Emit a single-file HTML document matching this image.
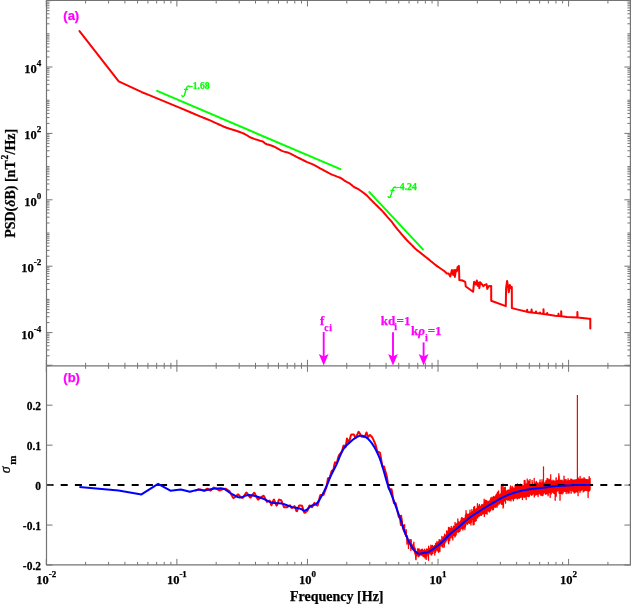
<!DOCTYPE html>
<html><head><meta charset="utf-8"><style>
html,body{margin:0;padding:0;background:#fff;width:631px;height:604px;overflow:hidden}
svg{display:block;will-change:transform}
</style></head><body>
<svg width="631" height="604" viewBox="0 0 631 604">
<defs><clipPath id="ca"><rect x="47" y="1" width="583" height="364"/></clipPath><clipPath id="cb"><rect x="47" y="366" width="583" height="199"/></clipPath></defs>
<g clip-path="url(#ca)" stroke-linejoin="round" stroke-linecap="round">
<polyline points="79.5,31.1 118.7,81.4 141.9,92.2 148.61,94.94 158.29,98.89 168.5,103.1 179.45,107.67 190.95,112.5 200,116.3 204.8,118.27 207.15,119.21 209.5,120.2 212.74,121.64 215.97,123.13 219,124.5 221.6,125.69 224,126.77 226.6,127.8 229.66,128.78 232.93,129.72 236.1,130.7 239.11,131.75 242.01,132.85 244.7,134 246.97,135.26 249.02,136.58 251.3,137.8 254.26,138.91 257.45,139.91 260,140.7 261.4,141.1 262.16,141.28 262.9,141.6 263.8,142.27 264.7,143.09 265.7,143.8 266.82,144.24 268.06,144.57 269.5,145 271.22,145.57 273.16,146.24 275.2,147.1 277.36,148.31 279.64,149.71 281.9,150.9 284.14,151.64 286.37,152.16 288.5,152.8 290.47,153.7 292.33,154.7 294.2,155.7 296.06,156.62 297.93,157.53 299.9,158.5 302.1,159.6 304.4,160.75 306.6,161.8 308.5,162.6 310.29,163.31 312.3,164.2 314.79,165.48 317.51,166.94 320,168.3 322.05,169.41 323.87,170.42 325.7,171.4 327.6,172.4 329.5,173.39 331.4,174.3 333.37,175.14 335.34,175.91 337.1,176.6 338.47,177.09 339.63,177.5 340.9,178.1 342.44,179.1 344.1,180.31 345.7,181.4 347.18,182.2 348.6,182.9 350,183.7 351.38,184.77 352.73,185.95 354.1,187 355.5,187.76 356.9,188.39 358.3,189.1 359.67,189.99 361.03,190.97 362.4,192 363.8,193.04 365.2,194.12 366.6,195.3 367.97,196.64 369.34,198.07 370.7,199.5 372.06,200.87 373.43,202.24 374.8,203.6 376.2,204.96 377.6,206.33 379,207.7 380.37,209.07 381.73,210.44 383.1,211.9 384.5,213.49 385.9,215.16 387.3,216.8 388.69,218.35 390.07,219.86 391.4,221.4 392.62,222.98 393.78,224.58 395,226.2 396.33,227.85 397.71,229.53 399.1,231.2 400.5,232.89 401.9,234.57 403.3,236.2 404.67,237.75 406.03,239.24 407.4,240.7 408.8,242.13 410.2,243.52 411.6,244.9 412.97,246.3 414.34,247.7 415.7,249 417.06,250.16 418.43,251.23 419.8,252.3 421.2,253.4 422.6,254.5 424,255.6 425.37,256.7 426.73,257.79 428.1,258.9 429.5,260.03 430.9,261.17 432.3,262.3 433.67,263.42 435.04,264.53 436.4,265.6 437.76,266.6 439.13,267.55 440.5,268.5 441.98,269.5 443.47,270.5 444.7,271.4 445.57,272.21 446.19,272.91 446.6,273.4 448.6,273.6 450.3,276.5 451.9,269.9 453.2,274.9 454.2,269.9 454.9,276.9 455.9,269.9 456.9,271.2 457.5,267.3 458.9,265.9 459.2,273.9 459.3,279.9 462.5,280.5 465.2,281.8 465.8,286.5 473.1,291.8 474.1,281.8 475.8,284.5 476.8,280.5 477.7,285.8 479.1,282.5 479.3,288.2 480.3,282.3 482,284.3 483.3,286.3 484.6,284.9 486.6,284.3 487.3,288.9 488.6,286.3 491.2,285.9 491.2,300.8 505.8,306.1 506.1,288.2 507.1,281 508.1,286.9 508.8,292.2 509.8,284.9 510.8,288 511.8,286.9 511.9,308.1 518,309.6 527,311.8 527.2,309.8 527.5,311.9 531.4,312.4 531.6,309.4 531.9,312.6 535.8,313 536,311.4 536.2,313.1 539.8,313.5 540,312.4 540.2,313.6 543.4,314 543.5,309.2 543.7,314.1 547,314.4 547.2,313 547.4,314.5 555,315.8 558.4,316.1 558.5,313.8 558.7,316.1 561.1,316.3 561.2,311.2 561.4,316.3 567,317 577.3,317.6 577.4,312.1 577.6,317.6 589.3,318.7 590.3,318.8 590.3,328.5" fill="none" stroke="#ff0000" stroke-width="2"/>
<polyline points="157.1,90.9 340.4,169.2" fill="none" stroke="#00ff00" stroke-width="2"/>
<polyline points="369.4,192.1 422.9,249.4" fill="none" stroke="#00ff00" stroke-width="2"/>
</g>
<g clip-path="url(#cb)" stroke-linejoin="round">
<polygon fill="#ff0000" points="405,532.52 406,534.91 407,537.18 408,539.34 409,541.32 410,543.03 411,544.8 412,546.14 413,547.81 414,548.76 415,550.14 416,550.81 417,551.27 418,552.19 419,552.23 420,552.24 421,551.46 422,551.49 423,550.68 424,550.88 425,549.91 426,550.19 427,549.26 428,548.84 429,548.45 430,547.81 431,547.41 432,546.68 433,546.43 434,545.32 435,544.79 436,543.49 437,542.37 438,542.05 439,541.61 440,540.61 441,540 442,539.23 443,537.63 444,536.33 445,535.18 446,534.14 447,533.32 448,531.91 449,531.53 450,529.83 451,529.96 452,529.08 453,527.25 454,526.36 455,525.88 456,524.92 457,524.17 458,523.04 459,523.18 460,521.79 461,520.65 462,520.02 463,519.13 464,518.71 465,516.7 466,516.27 467,515.54 468,515.33 469,512.8 470,512.88 471,512.9 472,510.75 473,511.15 474,509.49 475,509.61 476,508.21 477,507.46 478,507.31 479,506.45 480,506.86 481,505.11 482,504.31 483,504.29 484,502.78 485,503.71 486,502.48 487,500.89 488,501.8 489,500.78 490,500.2 491,498.67 492,498.25 493,497.22 494,497.8 495,497.62 496,496.06 497,496 498,495.84 499,495.19 500,493.77 501,493.4 502,492.74 503,491.85 504,492.34 505,490.59 506,491.53 507,491.05 508,490.25 509,489.85 510,489.48 511,488.11 512,487.73 513,487.28 514,487.53 515,488.02 516,486.52 517,486.59 518,486.65 519,487.07 520,485.82 521,486.92 522,485.85 523,485.98 524,484.66 525,485.46 526,485.34 527,485.06 528,484.01 529,483.65 530,485.04 531,484.79 532,483.92 533,483.67 534,484.23 535,483.09 536,484.4 537,483.86 538,484.02 539,483.43 540,483.44 541,483.53 542,481.83 543,482.32 544,483.03 545,481.45 546,482.07 547,482.79 548,481.12 549,482.53 550,481.37 551,482.2 552,482.2 553,481.8 554,481.19 555,480.58 556,481.03 557,480.2 558,481.19 559,480.54 560,481.46 561,479.9 562,481.39 563,479.9 564,481.17 565,480.76 566,481.02 567,481.04 568,480.08 569,480.33 570,480.94 571,479.1 572,479.08 573,479.84 574,479.73 575,480.36 576,479.01 577,479.98 578,480.6 579,479.1 580,478.89 581,480.44 582,479.25 583,479.98 584,478.93 585,478.96 586,480 587,479.09 588,479.93 589,479.82 590,479.05 590,490.51 589,491.16 588,490.79 587,491.18 586,490.38 585,490 584,490.26 583,489.6 582,490.07 581,490.91 580,489.97 579,491 578,490.82 577,490.48 576,490.03 575,489.58 574,489.65 573,491.09 572,491.08 571,491.32 570,490.24 569,491.27 568,490.8 567,490.5 566,490.58 565,490.07 564,491.22 563,490.75 562,491.38 561,491.43 560,490.65 559,491.71 558,490.44 557,490.24 556,490.35 555,492.19 554,491.57 553,491.6 552,491.01 551,492.58 550,491.97 549,492.36 548,491.72 547,492.24 546,492.19 545,491.7 544,491.9 543,492.41 542,493.25 541,493.68 540,492.35 539,494.04 538,493.66 537,494.15 536,494.52 535,493.34 534,494.73 533,493.73 532,494.65 531,493.64 530,493.35 529,494.71 528,494.95 527,495.29 526,494.43 525,494.54 524,495.32 523,494.83 522,494.76 521,496.23 520,496.12 519,495.96 518,495.96 517,496.72 516,496.81 515,496.65 514,497.43 513,498.03 512,497.82 511,498.49 510,499.54 509,499.33 508,500.25 507,499.86 506,499.9 505,500.4 504,501.41 503,501.37 502,502.1 501,502.57 500,504.36 499,503.77 498,504.81 497,504.37 496,506.1 495,506.24 494,507.19 493,508.43 492,507.84 491,508.14 490,509.22 489,510.07 488,510.01 487,511.56 486,511.27 485,512.53 484,513.2 483,514.35 482,514.56 481,514.08 480,514.71 479,516.09 478,517.7 477,516.7 476,518.72 475,518.17 474,519.23 473,520.31 472,520.12 471,522.02 470,521.69 469,522.33 468,524.17 467,523.8 466,525.23 465,525.7 464,525.87 463,528.36 462,528.27 461,529 460,529.95 459,530.76 458,531.82 457,532.46 456,533.49 455,534.66 454,534.75 453,535.71 452,536.58 451,536.61 450,538.62 449,539.31 448,539.27 447,540.9 446,541.33 445,542.47 444,544.05 443,545.18 442,546.13 441,546.25 440,546.92 439,547.3 438,549.36 437,549.46 436,550.25 435,550.81 434,551.25 433,552.68 432,553.23 431,553.05 430,554.04 429,553.95 428,555.24 427,554.65 426,554.71 425,554.66 424,555.02 423,555.21 422,555.61 421,555.27 420,555.93 419,555.13 418,555.28 417,554.2 416,553.47 415,552.51 414,551.06 413,549.65 412,548.12 411,546.35 410,544.36 409,542.2 408,539.99 407,537.67 406,535.17 405,532.52"/>
<polyline points="195,490.74 195.5,490.58 196,490.41 196.5,490.23 197,490.04 197.5,489.83 198,489.62 198.5,489.58 199,489.54 199.5,489.48 200,489.43 200.5,489.58 201,489.74 201.5,489.91 202,490.09 202.5,490.28 203,490.48 203.5,490.69 204,490.91 204.5,490.71 205,490.33 205.5,489.92 206,489.51 206.5,489.09 207,488.66 207.5,488.72 208,489.03 208.5,489.35 209,489.68 209.5,490.02 210,490.37 210.5,490.62 211,490.17 211.5,489.71 212,489.23 212.5,488.75 213,488.26 213.5,487.8 214,487.61 214.5,487.84 215,488.06 215.5,488.3 216,488.53 216.5,488.77 217,489.02 217.5,489.28 218,489.55 218.5,489.84 219,490.14 219.5,490.45 220,490.37 220.5,490.13 221,489.91 221.5,489.72 222,489.53 222.5,489.34 223,489.14 223.5,488.96 224,488.9 224.5,488.84 225,488.76 225.5,488.7 226,488.97 226.5,489.27 227,489.57 227.5,489.89 228,490.23 228.5,490.57 229,490.92 229.5,491.27 230,492.18 230.5,493.1 231,494.02 231.5,494.9 232,495.78 232.5,496.66 233,497.54 233.5,498.1 234,497.73 234.5,497.36 235,496.99 235.5,496.6 236,496.17 236.5,495.74 237,495.31 237.5,494.87 238,494.37 238.5,494.65 239,495.19 239.5,495.73 240,496.24 240.5,496.59 241,496.95 241.5,497.3 242,497.66 242.5,497.88 243,497.61 243.5,496.83 244,496.04 244.5,495.26 245,494.48 245.5,493.69 246,492.91 246.5,492.51 247,493.16 247.5,493.81 248,494.46 248.5,495.11 249,495.84 249.5,496.62 250,497.41 250.5,497.65 251,496.93 251.5,496.2 252,495.5 252.5,494.83 253,494.15 253.5,493.47 254,492.79 254.5,493.01 255,493.94 255.5,494.9 256,495.87 256.5,496.83 257,497.8 257.5,498.77 258,499.6 258.5,499.23 259,498.86 259.5,498.49 260,498.12 260.5,497.75 261,497.38 261.5,497.01 262,496.69 262.5,496.36 263,496.03 263.5,495.7 264,496.39 264.5,497.32 265,498.25 265.5,499.19 266,500.13 266.5,501.07 267,501.86 267.5,501.64 268,501.42 268.5,501.2 269,500.98 269.5,500.71 270,501.01 270.5,502.73 271,504.45 271.5,505.2 272,503.96 272.5,502.71 273,501.45 273.5,500.19 274,499.55 274.5,500.78 275,502 275.5,503.21 276,504.43 276.5,505.65 277,505.13 277.5,503.73 278,502.33 278.5,500.93 279,499.59 279.5,499.75 280,499.94 280.5,500.12 281,500.3 281.5,500.83 282,502.04 282.5,503.28 283,504.53 283.5,505.77 284,507.02 284.5,507.32 285,507.31 285.5,507.29 286,507.27 286.5,507.25 287,507.23 287.5,507 288,506.64 288.5,506.28 289,505.92 289.5,505.55 290,505.39 290.5,506.25 291,507.11 291.5,507.97 292,507.99 292.5,507.63 293,507.27 293.5,506.91 294,506.55 294.5,506.17 295,507.19 295.5,508.5 296,509.8 296.5,511.11 297,511.17 297.5,509.8 298,508.43 298.5,507.08 299,505.73 299.5,505.5 300,505.44 300.5,505.5 301,505.56 301.5,505.62 302,505.79 302.5,507.16 303,508.8 303.5,510.42 304,511.92 304.5,512.81 305,512.73 305.5,512.36 306,512 306.5,511.59 307,511.05 307.5,510.5 308,509.41 308.5,508.07 309,506.72 309.5,505.41 310,505.67 310.5,505.97 311,506.33 311.5,506.79 312,507.26 312.5,506.47 313,505.44 313.5,504.41 314,503.37 314.5,502.89 315,503.53 315.5,504.07 316,504.54 316.5,505.01 317,505.29 317.5,505.53 318,504.27 318.5,502.27 319,500.26 319.5,498.17 320,496.06 320.5,494.94 321,494.99 321.5,495.03 322,495.04 322.5,495.05 323,495.02 323.5,494.89 324,493.62 324.5,492.3 325,490.98 325.5,489.64 326,488.28 326.5,486.83 327,484.01 327.5,481.19 328,478.29 328.5,477.96 329,478.07 329.5,478.18 330,476.75 330.5,474.94 331,473.23 331.5,471.54 332,470.69 332.5,470.38 333,470.06 333.5,469.23 334,466.58 334.5,463.94 335,462.3 335.5,462.8 336,463.3 336.5,463.76 337,462.06 337.5,460.2 338,458.34 338.5,456.41 339,455.29 339.5,454.57 340,453.89 340.5,453.23 341,452.58 341.5,451.98 342,451.52 342.5,449.58 343,447.47 343.5,445.6 344,445.47 344.5,445.91 345,446.47 345.5,447.1 346,444.45 346.5,441.43 347,438.47 347.5,439.86 348,441.25 348.5,442.67 349,442.13 349.5,440.37 350,438.61 350.5,436.85 351,435.1 351.5,434.54 352,434.52 352.5,434.51 353,434.49 353.5,434.51 354,434.66 354.5,435.73 355,436.82 355.5,437.94 356,437.56 356.5,436.38 357,435.23 357.5,434.07 358,432.96 358.5,431.86 359,432.12 359.5,432.95 360,433.78 360.5,434.68 361,435.61 361.5,436.57 362,436.85 362.5,436.82 363,436.87 363.5,436.93 364,437.02 364.5,437.16 365,436.3 365.5,434.99 366,433.69 366.5,432.42 367,433.89 367.5,435.5 368,437.1 368.5,436.5 369,435.94 369.5,435.42 370,435.09 370.5,435.54 371,436 371.5,436.51 372,437.04 372.5,437.85 373,438.9 373.5,439.94 374,441.04 374.5,442.17 375,443.31 375.5,444.54 376,446.47 376.5,448.44 377,450.44 377.5,451.88 378,451.97 378.5,452.05 379,452.25 379.5,452.47 380,452.77 380.5,455.61 381,458.47 381.5,461.52 382,464.6 382.5,466.78 383,466.6 383.5,466.46 384,466.57 384.5,468.31 385,470.06 385.5,471.81 386,473.56 386.5,475.23 387,477.27 387.5,480.88 388,484.38 388.5,487.79 389,489.02 389.5,489.1 390,489.18 390.5,489.22 391,489.24 391.5,489.27 392,491.46 392.5,494.62 393,497.81 393.5,501.03 394,503.31 394.5,503.18 395,503.05 395.5,502.95 396,504.7 396.5,506.92 397,509.15 397.5,511.37 398,513.61 398.5,515.86 399,517.34 399.5,517.58 400,517.86 400.5,518.14 401,518.45 401.5,518.78 400.02,518.23 400.21,516.24 400.41,518.79 400.61,522.89 400.81,523.98 401,524.93 401.2,515.77 401.39,518.61 401.59,518.81 401.78,522.83 401.97,520.83" fill="none" stroke="#ff0000" stroke-width="2"/>
<polyline points="400,517.86 400.5,518.14 401,518.45 401.5,518.78 400.02,518.23 400.21,516.24 400.41,518.79 400.61,522.89 400.81,523.98 401,524.93 401.2,515.77 401.39,518.61 401.59,518.81 401.78,522.83 401.97,520.83 402.16,524.76 402.35,526.2 402.55,528.12 402.74,524.33 402.92,529.53 403.11,529.93 403.3,529.89 403.49,528.67 403.68,525.42 403.86,531.91 404.05,528.25 404.23,526.06 404.42,530.58 404.6,524.73 404.78,532.86 404.97,534.48 405.15,532.12 405.33,534.2 405.51,532.54 405.69,536.18 405.87,535.66 406.05,536.45 406.23,529.68 406.41,535.2 406.58,535.15 406.76,538.24 406.94,544.22 407.11,543.09 407.29,537.76 407.46,535.92 407.64,538.65 407.81,539.2 407.98,539.11 408.16,542.58 408.33,540.68 408.5,548.39 408.67,544.38 408.84,543.25 409.01,543.2 409.18,541.96 409.35,543.97 409.52,543.73 409.69,541.1 409.86,539.41 410.02,541.84 410.19,542.93 410.35,541.57 410.52,541.22 410.69,541.07 410.85,550.48 411.01,547.86 411.18,539.58 411.34,543.93 411.5,544.26 411.67,546.25 411.83,548.7 411.99,547.72 412.15,547.51 412.31,545.23 412.47,547.55 412.63,548.84 412.79,547.94 412.95,544.9 413.11,550.02 413.26,548.42 413.42,543.68 413.58,549.57 413.73,546.46 413.89,542.17 414.05,548.88 414.2,546.19 414.36,551.8 414.51,551.05 414.66,550.65 414.82,552.63 414.97,554.06 415.12,548.07 415.28,550.52 415.43,554.65 415.58,551.06 415.73,559.26 415.88,552.24 416.03,559.7 416.18,555.13 416.33,552.4 416.48,554.17 416.63,555.91 416.78,555.21 416.92,555.36 417.07,552.23 417.22,555.06 417.36,553.17 417.51,548.93 417.66,551.29 417.8,555.03 417.95,552.75 418.09,549.34 418.24,556.78 418.38,551.05 418.53,556 418.67,556.47 418.81,555.59 418.95,548.57 419.1,551.92 419.24,549.65 419.38,555.67 419.52,555.89 419.66,549.97 419.8,552.33 419.94,553.55 420.08,553.78 420.22,550.08 420.36,553.64 420.5,553.49 420.64,551.41 420.78,553.36 420.91,551.61 421.05,550.65 421.19,553.62 421.33,553.9 421.46,549.34 421.6,554.74 421.73,555.14 421.87,552.86 422.01,553.05 422.14,551.06 422.27,549.15 422.41,549.83 422.54,552.75 422.68,554.62 422.81,551.8 422.94,556.27 423.08,553.32 423.21,550.69 423.34,553.63 423.47,553.84 423.6,556.68 423.73,554.37 423.86,552.37 424,556.34 424.13,549.78 424.26,551.73 424.38,552.84 424.51,550.36 424.64,553.53 424.77,549.06 424.9,557.98 425.03,553.54 425.16,551.45 425.28,554.73 425.41,551.27 425.54,556.69 425.67,552.65 425.79,552.52 425.92,553.57 426.04,551.07 426.17,559.45 426.29,550.65 426.42,552.43 426.54,556.65 426.67,548.88 426.79,556.03 426.92,551.08 427.04,552.05 427.16,549.11 427.29,552.12 427.41,553.22 427.53,549.54 427.66,552.69 427.78,554.48 427.9,551.79 428.02,549.27 428.14,550.97 428.26,553.68 428.38,558.23 428.5,560.27 428.62,546.16 428.74,552.19 428.86,552.9 428.98,551.77 429.1,553.88 429.22,551.48 429.34,548.31 429.46,549.41 429.58,553.22 429.7,552.76 429.81,550.84 429.93,552.46 430.05,549.41 430.17,548.29 430.28,552.81 430.4,551.25 430.51,550.28 430.63,553.39 430.75,547.25 430.86,545.14 430.98,554.83 431.09,552.64 431.21,549.91 431.32,545.68 431.44,549.51 431.55,546.97 431.67,545.87 431.78,555.07 431.89,551.15 432.01,548.19 432.12,547.65 432.23,546.53 432.34,545.98 432.46,545.49 432.57,548.78 432.68,548.96 432.79,548.98 432.9,553.4 433.02,547.96 433.13,549.22 433.24,551.21 433.35,548.62 433.46,549.37 433.57,546.63 433.68,549.75 433.79,548.65 433.9,549.25 434.01,547.54 434.12,546.45 434.23,546.15 434.33,548.08 434.44,549.01 434.55,545.98 434.66,545.81 434.77,555.07 434.87,548.28 434.98,550.81 435.09,549.45 435.2,549.95 435.3,548.06 435.41,548.13 435.52,552.38 435.62,543.4 435.73,549.61 435.84,545.9 435.94,546.95 436.05,546.11 436.15,544.88 436.26,549.88 436.36,546.12 436.47,549.38 436.57,548.54 436.68,545.94 436.78,547.76 436.88,543.31 436.99,541.36 437.09,551.05 437.19,546.62 437.3,545.47 437.4,545.95 437.5,544.89 437.61,547.78 437.71,544.47 437.81,544.23 437.91,547.54 438.01,545.01 438.12,550.19 438.22,550.4 438.32,545.27 438.42,545.7 438.52,544.74 438.62,552.28 438.72,542.76 438.82,541.47 438.92,546.19 439.02,546.21 439.12,539.7 439.22,542.25 439.32,542.61 439.42,544.5 439.52,542.94 439.62,544.1 439.72,545.14 439.82,539.95 439.92,551.56 440.01,543.64 440.11,544.98 440.21,542.76 440.31,540.26 440.41,540.06 440.5,540.17 440.6,542.46 440.7,541.83 440.8,540.36 440.89,541.8 440.99,542.97 441.09,545.18 441.18,540.33 441.28,541.38 441.37,540.35 441.47,542.41 441.57,543.88 441.66,542.27 441.76,545.98 441.85,536.38 441.95,543.58 442.04,543.4 442.14,544.66 442.23,540.58 442.33,541.44 442.42,547.07 442.51,538.03 442.61,539.04 442.7,542.74 442.8,542.96 442.89,539.29 442.98,539.43 443.08,540.19 443.17,539.17 443.26,541.98 443.35,537.02 443.45,537.58 443.54,543.02 443.63,543 443.72,544.55 443.82,537.61 443.91,547.47 444,538.15 444.09,542.61 444.18,538.64 444.27,541.47 444.36,546.53 444.46,539.96 444.55,534.24 444.64,543.12 444.73,543.37 444.82,539.71 444.91,542.94 445,541.47 445.09,540.61 445.18,540.99 445.27,541.69 445.36,541.07 445.45,539.22 445.54,540.14 445.62,537.47 445.71,538.52 445.8,541.91 445.89,535.76 445.98,538.63 446.07,535.88 446.16,538.9 446.24,536.11 446.33,534.71 446.42,537.33 446.51,536.54 446.6,530.9 446.68,537.45 446.77,536.44 446.86,534.01 446.94,534.82 447.03,533.41 447.12,538.95 447.21,531.77 447.29,537.88 447.38,534.39 447.46,536.75 447.55,534.6 447.64,536.93 447.72,538.63 447.81,538.65 447.89,535.25 447.98,536 448.06,535.41 448.15,530.47 448.23,532.74 448.32,535.64 448.4,542.16 448.49,527.36 448.57,538.55 448.66,543.73 448.74,536.94 448.83,534.28 448.91,537.82 448.99,536.23 449.08,536.99 449.16,533.38 449.25,527.75 449.33,534.64 449.41,531.9 449.5,534.48 449.58,538.41 449.66,540.69 449.74,537.04 449.83,539.08 449.91,532.23 449.99,531.85 450.07,528.31 450.16,530.8 450.24,531.7 450.32,531.5 450.4,537.85 450.48,533.41 450.57,531.75 450.65,534.21 450.73,534.47 450.81,531.19 450.89,529.31 450.97,529.41 451.05,534.92 451.13,533.47 451.22,526.34 451.3,532.42 451.38,532.28 451.46,532.27 451.54,535.08 451.62,534.52 451.7,530.8 451.78,531.41 451.86,537.39 451.94,537.97 452.02,536.05 452.1,534.82 452.18,528.97 452.25,533.58 452.33,529.37 452.41,530.9 452.49,536.7 452.57,529.92 452.65,535.58 452.73,532.83 452.81,539.92 452.88,533.62 452.96,533.22 453.04,530.88 453.12,526.93 453.2,531.2 453.28,530.36 453.35,533.77 453.43,532.86 453.51,526.24 453.59,530.98 453.66,527.48 453.74,531.19 453.82,532.38 453.89,528.14 453.97,535.32 454.05,530.13 454.12,528.24 454.2,531.53 454.28,526.8 454.35,532.65 454.43,529.66 454.51,530.22 454.58,532.63 454.66,530.18 454.73,527.37 454.81,530.6 454.89,536.98 454.96,525.53 455.04,522.35 455.11,527.87 455.19,523.9 455.26,527.32 455.34,528.56 455.41,535.83 455.49,534.85 455.56,535.27 455.64,534.03 455.71,530.34 455.79,529.54 455.86,527.62 455.93,524.35 456.01,525.36 456.08,533.57 456.16,534.93 456.23,531.59 456.3,530.64 456.38,530.24 456.45,532.19 456.53,524.02 456.6,526.94 456.67,526.73 456.75,528.7 456.82,526.38 456.89,530.91 456.96,528.74 457.04,526.47 457.11,530.37 457.18,530.87 457.25,524.63 457.33,523.07 457.4,530.2 457.47,525.84 457.54,527.43 457.62,529.22 457.69,526.07 457.76,528.85 457.83,518.94 457.9,521.97 457.98,527.91 458.05,524.09 458.12,532.42 458.19,526.96 458.26,529.53 458.33,530.8 458.4,530.13 458.47,525.35 458.55,521.81 458.62,524.45 458.69,528.85 458.76,527.48 458.83,526.41 458.9,529.88 458.97,524.56 459.04,527.06 459.11,530.16 459.18,526.66 459.25,521.9 459.32,529.9 459.39,531.48 459.46,527.99 459.53,529.27 459.6,528.71 459.67,528.68 459.74,527.06 459.81,528.56 459.88,527.02 459.95,527.45 460.01,523.97 460.08,525.53 460.15,530.84 460.22,524.87 460.29,528.14 460.36,527.43 460.43,525.13 460.5,522.03 460.56,527.08 460.63,526.67 460.7,520.69 460.77,528.56 460.84,522.73 460.91,522.43 460.97,520.66 461.04,527.92 461.11,520.13 461.18,522.45 461.24,523.63 461.31,518.21 461.38,527.56 461.45,520.73 461.51,522.8 461.58,528.64 461.65,525.44 461.72,519.39 461.78,521.17 461.85,525.88 461.92,520.83 461.98,517.52 462.05,524.63 462.12,520.87 462.18,527.85 462.25,524.84 462.32,527.45 462.38,522.36 462.45,518.78 462.51,522.35 462.58,525.46 462.65,520.11 462.71,524.69 462.78,528.15 462.84,530.03 462.91,529.76 462.98,522.46 463.04,526.4 463.11,518.76 463.17,525.46 463.24,523.87 463.3,528.18 463.37,524.03 463.43,528.52 463.5,526.62 463.56,526.78 463.63,518.62 463.69,523.42 463.76,519.79 463.82,526.17 463.89,519.82 463.95,522.93 464.01,523.86 464.08,519.68 464.14,520.48 464.21,523.9 464.27,527.27 464.34,522.15 464.4,520.83 464.46,525.44 464.53,520.25 464.59,519.27 464.65,527.45 464.72,523.85 464.78,525.54 464.85,529.14 464.91,529.49 464.97,522.09 465.04,522.9 465.1,522.47 465.16,520.29 465.22,522.82 465.29,524.59 465.35,527.1 465.41,517.78 465.48,515.12 465.54,522.63 465.6,525.66 465.66,514.72 465.73,523.38 465.79,520.98 465.85,522.51 465.91,518.93 465.98,521.01 466.04,510.6 466.1,518.95 466.16,516.41 466.22,521.26 466.29,518 466.35,522.7 466.41,515.48 466.47,516.73 466.53,517.09 466.59,513.29 466.66,516.35 466.72,519.77 466.78,519.07 466.84,515.48 466.9,517.42 466.96,522.55 467.02,520.61 467.08,523.07 467.15,520.92 467.21,517.23 467.27,516.99 467.33,519.46 467.39,516.23 467.45,514.69 467.51,518.06 467.57,523.42 467.63,524.3 467.69,520.52 467.75,523.34 467.81,519.97 467.87,522.99 467.93,516.93 467.99,522.74 468.05,516.54 468.11,517.44 468.17,514.72 468.23,517 468.29,515.63 468.35,519.06 468.41,519.45 468.47,516.86 468.53,515.96 468.59,516.18 468.65,517.5 468.71,516.96 468.77,521.48 468.83,522.26 468.88,519.67 468.94,519.78 469,514.21 469.06,521.31 469.12,518.35 469.18,521.68 469.24,517.53 469.3,516.55 469.36,515.06 469.41,522.77 469.47,517.95 469.53,523.33 469.59,523.23 469.65,517.21 469.71,515.26 469.76,522.92 469.82,519.28 469.88,517.33 469.94,516.11 470,510.11 470.05,519.23 470.11,517.17 470.17,516.81 470.23,517.8 470.28,516 470.34,520.42 470.4,522.71 470.46,514.22 470.51,520.19 470.57,520.57 470.63,521.55 470.69,514.6 470.74,514.41 470.8,522.2 470.86,514.86 470.92,524.91 470.97,519.98 471.03,514.48 471.09,520.49 471.14,514.33 471.2,514.88 471.26,512.97 471.31,519.92 471.37,517.92 471.43,513.89 471.48,512.51 471.54,518.32 471.6,522.21 471.65,517.83 471.71,513.83 471.76,515 471.82,513.22 471.88,509.45 471.93,510.53 471.99,514.06 472.04,518.12 472.1,514.93 472.16,513.71 472.21,516.32 472.27,516.74 472.32,512.27 472.38,516.06 472.43,513.34 472.49,518.63 472.54,513 472.6,516.38 472.66,517.53 472.71,512.77 472.77,518.67 472.82,516.02 472.88,516.2 472.93,519 472.99,518.19 473.04,512.83 473.1,512.5 473.15,524.96 473.21,517.27 473.26,512.83 473.31,514.07 473.37,520.34 473.42,513.2 473.48,514.98 473.53,515.88 473.59,515.85 473.64,515.43 473.7,507.2 473.75,516.88 473.8,512.1 473.86,512.85 473.91,514.53 473.97,518.89 474.02,513.07 474.07,511.75 474.13,524.47 474.18,512.38 474.24,514.4 474.29,517.52 474.34,514.97 474.4,513.54 474.45,508.63 474.5,506.76 474.56,514.55 474.61,506.53 474.66,509.62 474.72,511.21 474.77,514.1 474.82,515.83 474.88,514.24 474.93,516.98 474.98,513.6 475.04,511.9 475.09,515.38 475.14,521.45 475.2,516.19 475.25,516.62 475.3,516.37 475.35,509.95 475.41,515.43 475.46,510.4 475.51,513.91 475.56,514.78 475.62,517.72 475.67,518.84 475.72,515.04 475.77,515.71 475.83,515.4 475.88,516.8 475.93,520.3 475.98,519.4 476.03,512.27 476.09,511.38 476.14,513.21 476.19,515.48 476.24,520.72 476.29,513.13 476.35,514.08 476.4,512.47 476.45,513.71 476.5,513.01 476.55,513.19 476.6,513.18 476.66,514.37 476.71,516.19 476.76,511.31 476.81,512.12 476.86,512.34 476.91,510.72 476.96,509.81 477.02,510.34 477.07,508.81 477.12,509.35 477.17,513.02 477.22,513.79 477.27,512.41 477.32,511.48 477.37,516.13 477.42,503.7 477.47,515.64 477.52,510.44 477.58,514.84 477.63,518.09 477.68,507.47 477.73,515.51 477.78,508.55 477.83,513.57 477.88,514.89 477.93,506.17 477.98,508.12 478.03,515.85 478.08,515.78 478.13,510.97 478.18,511.37 478.23,511.84 478.28,512.6 478.33,513.33 478.38,513.36 478.43,512.15 478.48,516.26 478.53,512.3 478.58,511.33 478.63,510.28 478.68,513.33 478.73,512.15 478.78,511.34 478.83,513.27 478.88,506.1 478.93,507.98 478.98,511.48 479.03,509.52 479.08,508.82 479.13,513.64 479.17,505.17 479.22,516.15 479.27,511.51 479.32,514.27 479.37,513.71 479.42,504.37 479.47,514.96 479.52,512.49 479.57,511.16 479.62,514.56 479.66,509.85 479.71,510.8 479.76,512.81 479.81,511.22 479.86,515.26 479.91,509.12 479.96,511.54 480.01,510.28 480.05,509.68 480.1,508.42 480.15,508.95 480.2,509 480.25,513.29 480.3,509.84 480.34,513.86 480.39,513.65 480.44,510.15 480.49,514.22 480.54,511.76 480.59,511.71 480.63,509.86 480.68,512.81 480.73,512.81 480.78,506.53 480.83,511.9 480.87,515.25 480.92,507.45 481.02,507.79 481.06,510.88 481.11,514.03 481.16,513.18 481.21,510.31 481.25,506.45 481.3,508.68 481.35,508.39 481.4,515.4 481.44,512.38 481.49,507.33 481.54,504.86 481.59,511.82 481.63,515.04 481.68,508.41 481.73,506.77 481.77,513.67 481.82,511.41 481.87,506.06 481.92,509.85 482.01,505.82 482.06,511.02 482.1,508.1 482.15,509.91 482.2,505.08 482.24,506.33 482.29,507.88 482.34,506.84 482.38,507.31 482.43,508.83 482.48,506.56 482.52,507.06 482.57,511.14 482.62,505.6 482.66,509.16 482.71,511.76 482.75,512.5 482.8,511.62 482.85,507.62 482.89,511.15 483.03,508.34 483.08,509.91 483.12,508.92 483.17,513.81 483.21,506.06 483.26,504.8 483.31,508.3 483.35,505.93 483.4,512.13 483.44,506.85 483.49,505.01 483.54,505.14 483.58,511.03 483.63,512.24 483.67,507.65 483.72,511.49 483.76,508.37 483.81,509.79 483.85,510.92 483.9,506.76 484.03,508.14 484.08,512.54 484.13,499.14 484.17,509.7 484.22,510.42 484.26,508.92 484.31,510.03 484.35,501.72 484.4,516.42 484.44,503.08 484.49,511.05 484.53,510.77 484.57,508 484.62,506.82 484.66,505.97 484.71,507.36 484.75,512.55 484.8,504.76 484.84,506.23 484.89,507.82 485.02,506.08 485.07,501.54 485.11,506.73 485.15,508.05 485.2,507.73 485.24,506.84 485.29,504.47 485.33,513.24 485.38,511.6 485.42,504.3 485.46,508.38 485.51,500.08 485.55,503.16 485.6,507.29 485.64,508.25 485.68,504.43 485.73,513.69 485.77,500.48 485.82,502.12 485.86,507.27 486.03,510.29 486.08,504.54 486.12,513.23 486.16,507.01 486.21,508.94 486.25,509.57 486.3,506.36 486.34,503.64 486.38,506.11 486.43,511.18 486.47,511.06 486.51,507.69 486.56,509.2 486.6,505.11 486.64,504.04 486.69,508.79 486.73,508.02 486.77,500.67 486.81,508.71 486.86,503.31 487.03,510.61 487.07,508.48 487.11,514.16 487.16,504.64 487.2,506.8 487.24,509.81 487.29,503.65 487.33,504.44 487.37,504.75 487.41,502.05 487.46,505.8 487.5,502.49 487.54,509.28 487.58,504.98 487.63,506.92 487.67,503.91 487.71,510.37 487.75,503.45 487.8,508.9 487.84,505.02 488.01,507.99 488.05,505.1 488.09,509.04 488.13,510.58 488.18,501.29 488.22,510.57 488.26,506.57 488.3,501.5 488.34,508.13 488.39,507.33 488.43,503.02 488.47,510.98 488.51,510.33 488.55,506.39 488.59,505.68 488.64,504.37 488.68,508.45 488.72,504.03 488.76,503.76 488.8,504.8 489.01,502.72 489.05,505.09 489.09,505.27 489.13,504.9 489.18,506.05 489.22,507.43 489.26,505.77 489.3,506.84 489.34,512.09 489.38,503.85 489.42,501.84 489.46,504.64 489.51,506.3 489.55,509.46 489.59,502.7 489.63,502.31 489.67,502.19 489.71,501.22 489.75,506.47 489.79,504.8 490.04,503.59 490.08,504.26 490.12,508.67 490.16,502.1 490.2,503.8 490.24,502.58 490.28,505.6 490.32,503.1 490.36,499.65 490.4,500.8 490.44,503.99 490.48,502.22 490.52,510.82 490.56,501.23 490.6,509.49 490.64,506.6 490.68,508.47 490.72,504.8 490.76,497.95 490.8,502.69 491,505.73 491.04,505.65 491.08,508.81 491.12,502.26 491.16,507.22 491.2,504.32 491.24,504.07 491.28,508.37 491.32,506.46 491.36,506.76 491.4,506.18 491.44,503.33 491.48,503.61 491.52,498.33 491.56,498.12 491.6,503.72 491.64,505.43 491.68,505.08 491.72,501.24 491.76,507.83 492.03,497.17 492.07,506 492.11,498.59 492.15,504.65 492.19,500.72 492.23,499.04 492.27,507.81 492.31,498.99 492.35,501.31 492.39,509.76 492.43,498.7 492.47,504.67 492.5,505.44 492.54,502.34 492.58,501.24 492.62,503.84 492.66,503.53 492.7,502.96 492.74,502.73 492.78,503.75 493.01,499.44 493.05,499.36 493.09,502.45 493.12,499.64 493.16,497.39 493.2,501.69 493.24,506.1 493.28,503.12 493.32,503.94 493.35,509.71 493.39,501.29 493.43,507.02 493.47,501.45 493.51,500.5 493.55,498.45 493.58,506.09 493.62,501.35 493.66,496.35 493.7,508.12 493.74,500.83 494,498.99 494.04,499.19 494.08,505.32 494.12,499.12 494.15,500.83 494.19,505.32 494.23,499.45 494.27,502.04 494.31,503.53 494.34,497.85 494.38,502.29 494.42,504.99 494.46,504.55 494.49,500.86 494.53,502.63 494.57,496.94 494.61,500.24 494.64,507.12 494.68,501.52 494.72,500.24 495.02,502.91 495.06,501.89 495.09,499.83 495.13,501.99 495.17,504.72 495.2,502.17 495.24,504.22 495.28,505 495.32,498.5 495.35,507.24 495.39,498.11 495.43,498.35 495.46,506.08 495.5,503.64 495.54,503.56 495.57,501.14 495.61,500.32 495.65,495.6 495.68,499.45 495.72,500.08 496.02,498.8 496.05,503.32 496.09,495.08 496.13,505.55 496.16,504.76 496.2,499.69 496.23,505.8 496.27,503.81 496.31,497.99 496.34,501.38 496.38,500.67 496.42,494.11 496.45,500.72 496.49,503.29 496.53,506.31 496.56,498.82 496.6,501.01 496.63,503.86 496.67,497.42 496.71,502.12 497.03,507.29 497.07,501.95 497.1,503.15 497.14,496.64 497.17,502.37 497.21,500.02 497.25,500.91 497.28,502.09 497.32,500.81 497.35,499.7 497.39,504.1 497.43,492.08 497.46,498.76 497.5,494.93 497.53,498.07 497.57,497.01 497.6,496.66 497.64,501.99 497.67,493.66 497.71,498.21 498.03,505.18 498.06,497.85 498.1,497.55 498.14,502.61 498.17,500.93 498.21,496.66 498.24,500.14 498.28,498.09 498.31,501.18 498.35,496.29 498.38,500.74 498.42,500.27 498.45,500.73 498.49,499.03 498.52,495.49 498.56,503.44 498.59,497.51 498.63,491.02 498.66,494.81 498.7,493.54 499.01,502.24 499.04,501.46 499.08,496.8 499.11,500.62 499.15,501.51 499.18,497.47 499.22,500.53 499.25,497.91 499.29,497.44 499.32,498.09 499.36,498.36 499.39,498.16 499.43,500.62 499.46,502.44 499.49,495.75 499.53,496.51 499.56,503.9 499.6,497.73 499.63,496.3 499.67,503.42 500.01,500.09 500.04,496.69 500.08,496.4 500.11,502.53 500.14,496.79 500.18,494.7 500.21,495.2 500.25,499.67 500.28,500.16 500.31,499.97 500.35,495.41 500.38,494.04 500.42,496.93 500.45,498.4 500.48,495.98 500.52,498.97 500.55,495.69 500.59,495.92 500.62,499.22 500.65,498.73 501.02,498.55 501.06,498.68 501.09,495.09 501.12,498.26 501.16,496.72 501.19,501.75 501.22,499.55 501.26,501.02 501.29,496.92 501.32,497.49 501.36,486.17 501.39,498.46 501.42,495.59 501.46,496.01 501.49,495.69 501.52,494.77 501.56,504.33 501.59,502.28 501.62,499.81 501.66,501.85 502.02,499.28 502.05,502.05 502.09,496.11 502.12,497.39 502.15,501.15 502.18,497.9 502.22,492.88 502.25,498.49 502.28,501.77 502.32,499.33 502.35,495.64 502.38,496.93 502.41,500.41 502.45,500.13 502.48,501.73 502.51,491.46 502.54,494.18 502.58,493.76 502.61,501.83 502.64,504.42 503.03,484.27 503.06,508.1 503.1,502.92 503.13,500.29 503.16,501.5 503.19,496.53 503.23,495.79 503.26,495.65 503.29,490.4 503.32,497.61 503.35,502.86 503.39,494.62 503.42,496.93 503.45,507.01 503.48,498.23 503.51,499.73 503.55,499.56 503.58,499.09 503.61,501.43 503.64,495.28 504.03,496.69 504.06,499.35 504.09,495.16 504.12,500.62 504.15,493.04 504.18,496.5 504.22,497.84 504.25,493.05 504.28,500.24 504.31,494.73 504.34,492.09 504.37,493.08 504.41,487.77 504.44,494.15 504.47,498.18 504.5,493.98 504.53,498.56 504.56,496.76 504.59,496.4 504.63,496.26 505,500.74 505.03,496.72 505.06,497.74 505.1,497.05 505.13,495.59 505.16,493.62 505.19,492.82 505.22,501.58 505.25,496.13 505.28,487.14 505.31,490.22 505.34,495.93 505.38,492.83 505.41,491.55 505.44,495.27 505.47,493.16 505.5,493 505.53,495.3 505.56,503.16 505.59,492.23 506.02,495.25 506.05,499.38 506.09,493.95 506.12,496.67 506.15,493.46 506.18,491.12 506.21,496.85 506.24,496.33 506.27,494.93 506.3,496.34 506.33,494.09 506.36,498.09 506.39,497.47 506.42,494.24 506.45,495.99 506.48,494.34 506.51,492.16 506.54,495.64 506.57,493.65 506.6,493.1 507.03,495.01 507.06,494.85 507.09,495.72 507.12,497.22 507.15,496.01 507.18,494.16 507.21,497.44 507.24,490.95 507.27,490.29 507.3,496.41 507.33,490.78 507.36,492.23 507.39,496.28 507.42,491.16 507.45,497.75 507.48,491.87 507.51,497.98 507.54,500.22 507.57,494.16 507.6,494.47 508.01,496 508.04,491.07 508.07,494.24 508.1,499.22 508.13,495.55 508.16,496.66 508.19,491.93 508.22,491.25 508.25,496.22 508.28,492.19 508.31,490.02 508.34,492.98 508.37,490.96 508.4,496.46 508.43,496.31 508.46,495.86 508.49,495.56 508.52,499.39 508.54,496.38 508.57,499.44 509.01,496.22 509.04,500.58 509.07,494.42 509.1,491.25 509.13,497.91 509.16,494.06 509.19,496.99 509.22,497.09 509.24,491.17 509.27,497.08 509.3,495.29 509.33,495.97 509.36,492.39 509.39,491.26 509.42,493.63 509.45,491.63 509.48,492.76 509.51,498 509.53,492.28 509.56,490.99 510.02,493.43 510.05,493.25 510.08,499.93 510.11,495.53 510.14,489.91 510.17,487.71 510.19,496.37 510.22,493.39 510.25,493.24 510.28,492.32 510.31,492.84 510.34,495.23 510.36,490.32 510.39,493.36 510.42,496.16 510.45,495.92 510.48,492.85 510.51,495.68 510.53,486.02 510.56,493.59 511.01,500.92 511.04,498.52 511.07,495.51 511.1,493.08 511.13,496.03 511.15,491.93 511.18,492.99 511.21,494.71 511.24,492.08 511.27,493 511.29,494.19 511.32,494.34 511.35,497.73 511.38,493.15 511.41,490.15 511.43,494.41 511.46,492.12 511.49,497.34 511.52,492.08 511.55,493.58 512.02,489.55 512.04,486.85 512.07,494.03 512.1,494.93 512.13,494.34 512.16,494.71 512.18,491.41 512.21,486.33 512.24,488.33 512.27,492.75 512.29,492.45 512.32,493.41 512.35,498.75 512.38,492.93 512.4,494.49 512.43,487.78 512.46,491.43 512.48,497.14 512.51,494.09 512.54,496.18 513,496.29 513.03,492.06 513.06,491.39 513.08,489.96 513.11,498.59 513.14,493.92 513.17,494.23 513.19,488.95 513.22,493.13 513.25,495.12 513.27,496.51 513.3,494.08 513.33,496.17 513.35,493.41 513.38,499.65 513.41,500.84 513.44,493.71 513.46,488.39 513.49,490.78 513.52,494.4 514.02,494.89 514.05,490.03 514.08,492.44 514.1,490.62 514.13,491.59 514.16,492.43 514.18,491.57 514.21,493.66 514.24,492.59 514.26,493.88 514.29,489.91 514.32,493.1 514.34,492.43 514.37,491.47 514.4,493.43 514.42,491.82 514.45,490.93 514.48,493.37 514.5,494.82 514.53,498.45 515,492.37 515.03,493.78 515.05,485.37 515.08,493.9 515.11,496.83 515.13,496.82 515.16,495.3 515.18,497.24 515.21,491.36 515.24,496.08 515.26,485.56 515.29,495.33 515.32,487.22 515.34,495 515.37,487.22 515.39,496.3 515.42,491.36 515.45,498.04 515.47,491.19 515.5,492.57 516.01,494.35 516.04,484.97 516.07,492.49 516.09,487.66 516.12,495.77 516.14,497.9 516.17,489.92 516.19,488.51 516.22,486.98 516.25,496.94 516.27,487.08 516.3,493.68 516.32,492.25 516.35,489.19 516.37,489.84 516.4,488.2 516.42,497.12 516.45,494.28 516.48,493.42 516.5,488.86 517.01,486.81 517.03,497.81 517.06,493.45 517.08,494.88 517.11,491.03 517.14,486.47 517.16,487.38 517.19,495.61 517.21,490.75 517.24,492.77 517.26,489.06 517.29,495.4 517.31,498.89 517.34,491.77 517.36,494.86 517.39,494.35 517.41,488.75 517.44,495.61 517.46,488.73 517.49,483.95 518.01,494.47 518.04,489.45 518.06,489.24 518.09,494.83 518.11,489.46 518.14,497.45 518.16,493.77 518.18,486.36 518.21,493.34 518.23,491.56 518.26,490.67 518.28,498.2 518.31,489.52 518.33,490.63 518.36,491.05 518.38,489.83 518.41,489.43 518.43,488.19 518.46,490.56 518.48,493.17 519.02,486.69 519.05,490.08 519.07,486.45 519.09,485.84 519.12,488.53 519.14,493.86 519.17,494.38 519.19,491.17 519.22,489.29 519.24,490.35 519.26,494.39 519.29,492.38 519.31,493.9 519.34,489.75 519.36,494.47 519.39,488.7 519.41,493.27 519.43,493.31 519.46,498.17 519.48,487.51 520.01,486.75 520.04,491.26 520.06,487.37 520.08,491.13 520.11,488.43 520.13,488.4 520.16,490.57 520.18,491.19 520.2,490.1 520.23,486.3 520.25,497.27 520.28,494.8 520.3,492.8 520.32,485.91 520.35,494.14 520.37,485.71 520.39,484.19 520.42,491.51 520.44,487.73 520.47,489.2 521.01,493.64 521.03,493.5 521.06,497.01 521.08,487.41 521.1,484.64 521.13,493.97 521.15,492.22 521.18,488.7 521.2,487.07 521.22,489.88 521.25,497.12 521.27,493.69 521.29,494.82 521.32,496.48 521.34,486.59 521.36,486.78 521.39,485.34 521.41,489.49 521.43,486.43 521.46,485.88 522.01,486.94 522.04,490.9 522.06,492.1 522.08,491.65 522.11,487.69 522.13,493.11 522.15,488.15 522.18,492.33 522.2,492.65 522.22,484.98 522.25,488.59 522.27,492.41 522.29,492.11 522.31,488.51 522.34,494.33 522.36,492.2 522.38,496.69 522.41,499.57 522.43,491.66 522.45,489.51 523,491 523.02,487.57 523.05,488.74 523.07,491.42 523.09,496.99 523.12,493.29 523.14,489.71 523.16,488.67 523.18,490.66 523.21,489.47 523.23,486.89 523.25,488.19 523.27,491.93 523.3,486.86 523.32,490.02 523.34,491.23 523.36,492.82 523.39,495.77 523.41,489.44 523.43,489.46 524.02,485.07 524.04,496.82 524.06,490.79 524.08,489.98 524.11,493.32 524.13,493.05 524.15,490.08 524.17,485.89 524.19,495.8 524.22,491.48 524.24,491.15 524.26,480.3 524.28,492.02 524.31,484.14 524.33,491.11 524.35,486.57 524.37,488.67 524.39,497.35 524.42,491.14 524.44,493.69 525.01,489.65 525.03,492.47 525.06,480.69 525.08,491.05 525.1,496.89 525.12,492.86 525.14,484.98 525.17,493.18 525.19,487.43 525.21,485.17 525.23,485.19 525.25,490.71 525.28,492.4 525.3,493.53 525.32,492.71 525.34,485.8 525.36,491.2 525.38,488.86 525.41,490.46 525.43,486.72 526.01,490.51 526.04,490.2 526.06,494.66 526.08,494.43 526.1,495.5 526.12,490.57 526.14,499.56 526.16,491.33 526.19,483.89 526.21,491.28 526.23,490.21 526.25,490.87 526.27,490.1 526.29,490.78 526.31,494.68 526.34,492.09 526.36,487.83 526.38,489.9 526.4,488.28 526.42,492.13 527.02,495.25 527.04,494.29 527.06,493.3 527.08,496.16 527.1,489.81 527.12,485.12 527.15,489.64 527.17,490.68 527.19,490.22 527.21,489.37 527.23,490.09 527.25,492.58 527.27,484.4 527.29,488.36 527.31,487.86 527.34,493.78 527.36,489.06 527.38,488.87 527.4,483.29 527.42,487.78 528.01,491.64 528.03,482.39 528.05,480.49 528.07,491.01 528.09,490.29 528.11,485.94 528.13,489.09 528.15,485.17 528.17,483.64 528.19,494.91 528.21,486.26 528.23,486.83 528.26,483.7 528.28,492.9 528.3,496.66 528.32,489.47 528.34,492.31 528.36,492.47 528.38,491.51 528.4,494.6 529.02,487.1 529.04,489.45 529.06,486.76 529.08,491.77 529.1,489.71 529.12,486.71 529.14,494.37 529.16,490.51 529.18,485.47 529.2,487.57 529.22,493.64 529.24,491.28 529.26,488.95 529.28,481.81 529.3,487.5 529.32,486.17 529.34,481.33 529.36,486.68 529.38,496.34 529.4,487.22 530.01,479.5 530.03,487.3 530.05,484.59 530.07,489.29 530.09,491.79 530.11,489.89 530.13,491.72 530.15,485.19 530.17,486.62 530.19,488.84 530.21,491.04 530.23,488.05 530.25,490.62 530.27,494.16 530.29,488.26 530.31,489.88 530.33,490.58 530.35,487.88 530.37,485.88 530.39,491.96 531.01,487.88 531.03,490.24 531.05,487.04 531.07,487.08 531.09,486.78 531.11,490.71 531.13,488.02 531.15,488 531.16,487.34 531.18,492.32 531.2,488.75 531.22,489.42 531.24,490.28 531.26,494.89 531.28,495.27 531.3,492.84 531.32,493.52 531.34,487.49 531.36,488.85 531.38,488.36 532.01,492.14 532.03,489.79 532.04,491.16 532.06,486.63 532.08,486.09 532.1,485.73 532.12,480.37 532.14,487.46 532.16,489.59 532.18,490.34 532.2,489.88 532.22,489.39 532.24,492.49 532.26,486.57 532.28,491.8 532.3,491.06 532.32,489.97 532.33,494.74 532.35,482.79 532.37,492.72 533.01,487.46 533.03,490.36 533.04,487.14 533.06,492.11 533.08,487.16 533.1,486.08 533.12,489.68 533.14,487.77 533.16,490.11 533.18,489.04 533.2,489.27 533.22,492.5 533.23,489.4 533.25,489.21 533.27,492.68 533.29,492.47 533.31,493.52 533.33,490.79 533.35,486.34 533.37,489.45 534.01,493.15 534.03,488.92 534.05,489.61 534.06,490.7 534.08,493.85 534.1,482.23 534.12,491.6 534.14,489.12 534.16,492.46 534.18,478.5 534.19,489.22 534.21,489.83 534.23,486.8 534.25,489.96 534.27,497.03 534.29,484.37 534.31,492.79 534.33,493.9 534.34,493.97 534.36,488.52 535.01,492.25 535.03,490.21 535.05,490.49 535.07,489.68 535.08,490.06 535.1,489.47 535.12,487.88 535.14,485.5 535.16,486.75 535.18,485.16 535.19,483.04 535.21,491.76 535.23,487.4 535.25,489.09 535.27,488.98 535.29,495.12 535.3,487.22 535.32,492.07 535.34,483.72 535.36,490.42 536.01,490.17 536.03,490.74 536.05,481.81 536.07,494.77 536.09,491.75 536.1,487.6 536.12,486.13 536.14,483.59 536.16,487.76 536.18,485.85 536.19,485.87 536.21,492.23 536.23,488.72 536.25,487.24 536.27,486.82 536.28,488.86 536.3,491.97 536.32,481.39 536.34,493.03 536.36,488.19 537.02,485.3 537.04,490.03 537.05,490.08 537.07,490.14 537.09,488.79 537.11,492.24 537.12,490.44 537.14,485.22 537.16,492.45 537.18,487.77 537.19,488.46 537.21,482.61 537.23,494.56 537.25,485.44 537.27,484.73 537.28,490.24 537.3,493.68 537.32,490.32 537.34,484.34 537.35,485.39 538,487.14 538.02,487.9 538.04,484.13 538.06,492.07 538.07,492.8 538.09,487.8 538.11,496.57 538.13,494.09 538.14,493.35 538.16,486.23 538.18,491.73 538.2,485.75 538.21,488.62 538.23,489.03 538.25,489.51 538.27,487.8 538.28,494.1 538.3,486.14 538.32,488.38 538.33,490.08 539.01,488.8 539.02,487.7 539.04,485.86 539.06,491.83 539.08,490.64 539.09,490.13 539.11,482.68 539.13,485.98 539.14,484.54 539.16,486.81 539.18,487.4 539.2,487.99 539.21,491.63 539.23,493.37 539.25,489.19 539.26,484.94 539.28,484.27 539.3,488.97 539.32,490.9 539.33,489.46 540.01,490.07 540.03,486.34 540.04,479.94 540.06,485.98 540.08,492.92 540.09,488.97 540.11,488.64 540.13,494.23 540.15,485.26 540.16,490.94 540.18,490.75 540.2,487.22 540.21,484.11 540.23,491.02 540.25,489.46 540.26,486.92 540.28,486.03 540.3,486.74 540.31,482.56 540.33,494.97 541.01,484.61 541.03,483.47 541.05,489.28 541.06,495.17 541.08,487.13 541.1,485.94 541.11,486.08 541.13,488.44 541.15,484.47 541.16,495.03 541.18,492.7 541.19,488.17 541.21,486.2 541.23,490.06 541.24,491.45 541.26,490.55 541.28,492.94 541.29,489.72 541.31,489.68 541.33,487.63 542.01,493.29 542.03,479.74 542.05,489.28 542.06,482.76 542.08,489.01 542.1,490.75 542.11,495.67 542.13,486.55 542.14,489.98 542.16,489.73 542.18,487.75 542.19,490.4 542.21,492.68 542.22,482.51 542.24,490.86 542.26,493.44 542.27,488.22 542.29,490.65 542.31,486.97 542.32,487.53 543.01,490.9 543.03,486.61 543.05,488.87 543.06,483.79 543.08,490.26 543.09,488.02 543.11,495.16 543.13,486.99 543.14,482.27 543.16,485.95 543.17,485.07 543.19,484.85 543.21,487.02 543.22,491.3 543.24,482.42 543.25,492.78 543.27,485.68 543.28,494.1 543.3,489.71 543.32,484.66 544.01,492.54 544.03,488.33 544.04,490.59 544.06,487.3 544.07,488.32 544.09,488.76 544.11,488.17 544.12,484.39 544.14,488.43 544.15,485.92 544.17,491.98 544.18,491.97 544.2,484.47 544.22,486.23 544.23,486.94 544.25,483.86 544.26,487.19 544.28,486.48 544.29,485.68 544.31,492.54 545.01,486.22 545.02,491.84 545.04,488.49 545.05,486.21 545.07,488.15 545.09,488.27 545.1,484.51 545.12,488.26 545.13,485.32 545.15,484.56 545.16,488.82 545.18,488.34 545.19,490.18 545.21,489.11 545.22,491.33 545.24,492.64 545.25,493.98 545.27,488.09 545.29,485.48 545.3,487.89 546,480.76 546.02,487.59 546.03,488.09 546.05,494.05 546.06,482.58 546.08,485.68 546.09,486.71 546.11,483.41 546.12,489.44 546.14,483.91 546.15,489.28 546.17,490.38 546.18,487.48 546.2,487.58 546.21,489.9 546.23,481.66 546.24,483.06 546.26,486.36 546.27,481.96 546.29,486.47 547.01,493.5 547.02,490.61 547.04,486.03 547.05,488.7 547.07,482.5 547.08,479.87 547.1,478.47 547.11,487.32 547.13,489.44 547.14,485.18 547.16,485.35 547.17,489.1 547.19,488.34 547.2,488.77 547.22,490.68 547.23,479.32 547.25,487.92 547.26,485.68 547.28,486.22 547.29,484.63 548.01,478.9 548.03,484.37 548.04,488.5 548.06,490.91 548.07,495.74 548.09,490.22 548.1,482.78 548.12,490.03 548.13,485.49 548.14,482.51 548.16,485.47 548.17,489.02 548.19,489.58 548.2,482.9 548.22,484.43 548.23,483.89 548.25,486.06 548.26,494.66 548.28,483.52 548.29,483.24 549.01,487.46 549.03,484.58 549.04,490.25 549.06,484.02 549.07,487.39 549.09,487.53 549.1,484.45 549.11,482.2 549.13,492.48 549.14,483.92 549.16,492.27 549.17,489.08 549.19,487.24 549.2,488.37 549.21,488.83 549.23,486.39 549.24,481.69 549.26,479.85 549.27,484.58 549.29,484.95 550.01,487.69 550.03,485.72 550.04,487.77 550.05,479.39 550.07,481.63 550.08,487.3 550.1,487.29 550.11,488.3 550.12,488.08 550.14,482.72 550.15,479.09 550.17,483.78 550.18,488.11 550.19,497.38 550.21,485.09 550.22,487.6 550.24,488.5 550.25,490.57 550.27,488.25 550.28,481.36 551.01,488.84 551.02,489.96 551.03,483.64 551.05,492.8 551.06,484.39 551.08,487.94 551.09,488.26 551.1,492.6 551.12,486.83 551.13,492.56 551.14,486.86 551.16,481.83 551.17,484.39 551.19,493.94 551.2,484.55 551.21,484.78 551.23,488.47 551.24,488.09 551.26,480.69 551.27,484.33 552.01,491.59 552.02,490.08 552.04,492 552.05,487.75 552.06,485.89 552.08,489.84 552.09,491.02 552.11,483.54 552.12,484.72 552.13,486.78 552.15,485 552.16,488.98 552.17,483.94 552.19,485.93 552.2,481.78 552.21,486.11 552.23,484.25 552.24,481.41 552.26,491.9 552.27,482.65 553.01,488.33 553.02,480.08 553.04,488.2 553.05,484.78 553.06,486.69 553.08,485.94 553.09,485.42 553.1,486.3 553.12,484.66 553.13,486.44 553.14,492.46 553.16,491.91 553.17,489.74 553.18,482.78 553.2,487.22 553.21,482.15 553.22,492.78 553.24,487.05 553.25,484.86 553.26,485.37 554.01,487.99 554.02,486.86 554.03,483.86 554.05,490.08 554.06,483.77 554.07,483.52 554.09,483.31 554.1,492.25 554.11,490.52 554.13,486.21 554.14,483.89 554.15,493.55 554.16,484.52 554.18,483.11 554.19,485.16 554.2,482.5 554.22,487 554.23,481.01 554.24,484.42 554.26,488.66 555.01,484.14 555.02,488.99 555.04,489.58 555.05,481.83 555.06,485.37 555.08,488.13 555.09,488.1 555.1,490.96 555.12,484.6 555.13,483.45 555.14,483.12 555.15,483.33 555.17,489.66 555.18,486.52 555.19,500.37 555.21,484.08 555.22,485.46 555.23,488.74 555.24,482 555.26,491.16 556.01,485.74 556.02,489.44 556.04,487.19 556.05,485.73 556.06,485.94 556.08,477.79 556.09,482.84 556.1,488.8 556.11,491.75 556.13,485.38 556.14,492.88 556.15,489.41 556.16,485.41 556.18,490.62 556.19,477.97 556.2,485.87 556.21,487.96 556.23,496.21 556.24,483.08 556.25,484.99 557.01,484.45 557.02,481.58 557.03,491.54 557.04,487.08 557.06,487.63 557.07,488.14 557.08,489.35 557.09,480.41 557.11,488.21 557.12,483.91 557.13,487.18 557.14,487.15 557.16,483.86 557.17,483.78 557.18,487.99 557.19,483.03 557.21,480.56 557.22,490.03 557.23,483.97 557.24,488.62 558.01,487.46 558.02,483.48 558.03,487.3 558.05,486.06 558.06,487.91 558.07,490.35 558.08,483.22 558.1,487.61 558.11,486.46 558.12,488.55 558.13,489.84 558.14,485.2 558.16,487.31 558.17,483.99 558.18,485.85 558.19,485.22 558.21,484.02 558.22,486.55 558.23,489.26 558.24,481.95 559.01,476.21 559.02,484.82 559.03,483.88 559.04,484.19 559.06,486.74 559.07,493.34 559.08,485.5 559.09,483.77 559.1,486.09 559.12,486.92 559.13,483.37 559.14,484.13 559.15,486.23 559.16,483.92 559.18,481.24 559.19,490.95 559.2,487.39 559.21,485.45 559.22,486.91 559.24,482.99 560.01,490.04 560.02,484.35 560.03,500.28 560.05,490.34 560.06,488.77 560.07,489.63 560.08,491.42 560.09,480.12 560.11,489.24 560.12,481.8 560.13,491.23 560.14,490.75 560.15,482.74 560.16,490.53 560.18,484.97 560.19,487.19 560.2,489.64 560.21,483.11 560.22,488.69 560.24,485.2 561.01,489.68 561.02,484.75 561.03,484.02 561.04,486.48 561.06,480.72 561.07,485.88 561.08,493.35 561.09,484.99 561.1,489.07 561.11,480.51 561.12,486.41 561.14,484.05 561.15,488.02 561.16,485.59 561.17,483.59 561.18,483.03 561.19,481.73 561.21,485.66 561.22,486.98 561.23,489.73 562,484.83 562.01,486.58 562.02,483.53 562.03,487.3 562.05,480.6 562.06,485.3 562.07,489.56 562.08,489.64 562.09,480.38 562.1,482.28 562.11,493.99 562.13,484.33 562.14,493.09 562.15,489.91 562.16,480.2 562.17,486.23 562.18,482.61 562.19,482.68 562.21,487 562.22,489.02 563.01,486.39 563.02,481.86 563.03,489.75 563.04,483.31 563.05,484.22 563.07,483.61 563.08,483.95 563.09,487.75 563.1,484.42 563.11,485.33 563.12,486.53 563.13,482.56 563.14,483.36 563.16,484.43 563.17,488.89 563.18,492.93 563.19,492.16 563.2,485.89 563.21,490.1 563.22,487.44 564,479.91 564.01,476.03 564.02,486.94 564.03,486.31 564.04,490.24 564.06,482.55 564.07,484.69 564.08,485.32 564.09,491.17 564.1,488.75 564.11,488.84 564.12,486.86 564.13,486.46 564.14,482.94 564.15,485.53 564.17,487.66 564.18,485.43 564.19,481.12 564.2,490.39 564.21,483.79 565.01,487.94 565.02,485.32 565.03,486.97 565.04,489.24 565.05,488.79 565.06,482.59 565.07,491.22 565.08,488.62 565.09,484.77 565.1,483.06 565.12,481.45 565.13,486.24 565.14,491.4 565.15,479.53 565.16,489.4 565.17,490.45 565.18,484.38 565.19,483.44 565.2,485.98 565.21,484.72 566.01,483.16 566.02,484.02 566.03,484.23 566.04,483.87 566.05,485 566.06,487.43 566.07,487.67 566.08,481.28 566.09,481.71 566.1,479.73 566.11,487.74 566.12,483.18 566.13,488.26 566.15,484.65 566.16,484.26 566.17,493.62 566.18,481.98 566.19,486.71 566.2,483.84 566.21,492.45 567.01,486.18 567.02,483.96 567.03,481.72 567.04,489.35 567.05,483.71 567.06,486.66 567.07,486.01 567.08,486.97 567.09,487.81 567.1,491.01 567.11,481.76 567.13,486.25 567.14,482.92 567.15,485.22 567.16,483.13 567.17,481.19 567.18,484.02 567.19,484.33 567.2,481.99 567.21,488.2 568.01,493.24 568.02,486.65 568.03,483.26 568.04,485.81 568.05,487.72 568.06,479.22 568.07,485.19 568.08,485.23 568.09,478.7 568.1,482.36 568.11,489.82 568.12,483.55 568.13,485.14 568.14,479.63 568.15,485.18 568.16,481.78 568.17,490.24 568.18,482.94 568.19,482.58 568.2,486.57 569.01,488.85 569.02,485.23 569.03,491.6 569.04,484.18 569.05,484.17 569.06,489.16 569.07,480.98 569.08,480.83 569.09,487.29 569.1,488.12 569.11,487.39 569.12,486.57 569.13,491.89 569.14,487.15 569.15,489.33 569.16,481.93 569.17,484.54 569.18,492.94 569.19,486.17 569.2,485.85 570.01,481.07 570.02,485.88 570.03,482.56 570.04,481.05 570.05,483.22 570.06,489.68 570.07,487.22 570.08,480.24 570.09,483.65 570.1,486.06 570.11,484.56 570.12,485.3 570.13,486.73 570.14,484.19 570.15,488.82 570.16,485.05 570.17,482.76 570.18,484.57 570.19,486.71 570.2,487.58 571,485.23 571.01,478.8 571.02,489.3 571.03,492.48 571.04,488.82 571.05,480.07 571.06,487.46 571.07,486.75 571.08,488.31 571.09,483.04 571.1,481.7 571.11,485.41 571.12,489.49 571.13,480.66 571.14,493.26 571.15,482.02 571.16,481.94 571.17,487.17 571.18,487.32 571.19,486.61 572.01,489.78 572.02,488.77 572.03,485.73 572.04,484.35 572.05,486.72 572.05,485.95 572.06,482.51 572.07,489.24 572.08,488.79 572.09,490.47 572.1,486.07 572.11,482.16 572.12,487.62 572.13,482.48 572.14,484.84 572.15,483.06 572.16,486.17 572.17,481.45 572.18,480.28 572.19,484.95 573,486.76 573.01,486.76 573.02,483.62 573.03,484.89 573.04,487.07 573.05,491.72 573.06,482.54 573.07,484.45 573.08,485.63 573.09,483.77 573.1,489.34 573.11,486.61 573.12,484.47 573.13,488.37 573.14,485.58 573.15,487.08 573.16,485.38 573.16,487.02 573.17,486.36 573.18,486.68 574,482.08 574.01,485.71 574.02,484.3 574.03,488.34 574.04,484.01 574.05,486.14 574.06,485.88 574.07,484.68 574.08,482.55 574.09,482.69 574.1,486.2 574.11,484.43 574.11,489.84 574.12,482.79 574.13,485.23 574.14,479.9 574.15,485.04 574.16,487.22 574.17,483.51 574.18,493.05 575,484.65 575.01,483.44 575.02,483.7 575.03,486.68 575.04,481.21 575.05,486.29 575.06,487.42 575.07,480.06 575.08,486.35 575.09,488.1 575.09,487.42 575.1,487.2 575.11,485.71 575.12,482.29 575.13,486.59 575.14,483.17 575.15,482.42 575.16,488.2 575.17,492.59 575.18,488.82 576,484.94 576.01,484.87 576.02,479.89 576.03,487 576.04,483.32 576.05,483.9 576.06,488.03 576.07,487.86 576.08,481.04 576.08,483.04 576.09,484.17 576.1,488.06 576.11,489.44 576.12,482.05 576.13,490.75 576.14,484.7 576.15,485.42 576.16,491.65 576.16,485.94 576.17,487.41 577,484.15 577.01,489.3 577.02,488.13 577.03,485.15 577.04,487.8 577.05,491.96 577.06,484.63 577.07,490.24 577.07,485.77 577.08,479.34 577.09,483.23 577.1,484.75 577.11,488.4 577.12,479.94 577.13,482.54 577.14,490.41 577.14,482.24 577.15,487.94 577.16,483.69 577.17,483.02 578,477.71 578.01,490.35 578.02,482.87 578.03,485.24 578.04,482.19 578.05,485.97 578.06,482.74 578.07,486.3 578.07,486.35 578.08,495.66 578.09,481.58 578.1,483.69 578.11,483.57 578.12,490.21 578.13,486.73 578.13,478.09 578.14,489.37 578.15,485.88 578.16,480.76 578.17,481.76 579,485.23 579.01,483.05 579.02,489.09 579.03,484.79 579.04,485.49 579.05,479.49 579.06,487.97 579.06,487.33 579.07,479.06 579.08,483.14 579.09,486.77 579.1,481.96 579.11,484.21 579.11,489.33 579.12,488.25 579.13,488.38 579.14,488.02 579.15,485.1 579.16,484.04 579.17,483.82 580,492.35 580.01,485.1 580.02,489.36 580.03,485.36 580.04,480.48 580.05,488.88 580.05,483.17 580.06,485.83 580.07,484.99 580.08,483.77 580.09,476.44 580.1,482.32 580.1,481.99 580.11,487.92 580.12,485.28 580.13,485.24 580.14,484.23 580.15,485.27 580.15,488.25 580.16,480.6 581,484.21 581.01,490.52 581.02,483.4 581.03,481.78 581.04,484.69 581.04,486.94 581.05,488.78 581.06,487.62 581.07,485.32 581.08,488.3 581.08,490.43 581.09,486.1 581.1,484.49 581.11,486.89 581.12,487.11 581.13,489.3 581.13,489.13 581.14,487.64 581.15,479.49 581.16,486.43 582,482.8 582.01,485.69 582.02,483.68 582.02,480.84 582.03,480.36 582.04,488.75 582.05,478.58 582.06,482.43 582.06,479.13 582.07,484.96 582.08,489.13 582.09,486.89 582.1,483.43 582.1,489.14 582.11,488.98 582.12,487.2 582.13,486.56 582.14,485.78 582.14,483.22 582.15,486.43 583,483.65 583.01,489.11 583.02,487.66 583.03,481.53 583.04,479.25 583.04,487.95 583.05,485.58 583.06,483.71 583.07,479.36 583.07,487.27 583.08,487.33 583.09,484.84 583.1,482.71 583.11,488.09 583.11,481.45 583.12,491.88 583.13,481.3 583.14,486.65 583.15,483.06 583.15,479.35 584.01,484.92 584.01,488.76 584.02,484.77 584.03,487.49 584.04,482.98 584.04,484.54 584.05,477.53 584.06,482.28 584.07,484.73 584.08,491.1 584.08,481.23 584.09,486.75 584.1,484.59 584.11,487.36 584.11,481.07 584.12,488.51 584.13,480 584.14,486.24 584.14,490.36 584.15,486.94 585.01,490.58 585.01,487.3 585.02,484.66 585.03,478.83 585.04,481.78 585.04,483.94 585.05,486.16 585.06,481.87 585.07,483.19 585.07,482.95 585.08,487.75 585.09,481.51 585.1,482.75 585.1,483.45 585.11,488.52 585.12,482.91 585.13,484.12 585.13,481.72 585.14,489.74 585.15,485.66 586,481.49 586.01,486.16 586.02,485.31 586.02,479.58 586.03,490.04 586.04,488.81 586.05,486.7 586.05,488.66 586.06,486.02 586.07,483.1 586.08,483.09 586.08,485.81 586.09,486.91 586.1,484.33 586.11,482.01 586.11,483.12 586.12,482.27 586.13,489.85 586.14,484.18 586.14,487.39 587,486.74 587.01,488.56 587.02,485.28 587.03,484.44 587.03,482.25 587.04,483.4 587.05,490.03 587.06,479.55 587.06,482.3 587.07,485.45 587.08,484.93 587.09,481.85 587.09,484.07 587.1,486.49 587.11,490.57 587.11,484.09 587.12,485.05 587.13,484.88 587.14,485.01 587.14,485.41 588,480.32 588.01,483.9 588.02,483.04 588.03,484.7 588.03,482.82 588.04,487.51 588.05,486.72 588.05,487.48 588.06,489.73 588.07,485.88 588.08,486.18 588.08,484.13 588.09,491.79 588.1,484.99 588.1,479.9 588.11,497.55 588.12,482.42 588.13,484.05 588.13,486.97 588.14,491.19 589.01,486.5 589.01,487.12 589.02,483.45 589.03,483.88 589.04,486.23 589.04,481.83 589.05,483.3 589.06,485.8 589.06,479.76 589.07,486.08 589.08,480.9 589.08,489.57 589.09,490.12 589.1,491.15 589.11,481.89 589.11,485.3 589.12,489.07 589.13,480.11 589.13,485.05 589.14,476.63 590.01,489.25 590.01,487.55 590.02,485.68 590.03,482.99 590.03,484.64 590.04,480.31 590.05,480.42 590.06,485.35 590.06,481.3 590.07,478.35 590.08,489.96 590.08,486.71 590.09,483.6 590.1,489.75 590.1,489.31 590.11,483.78 590.12,484.1 590.13,486.11 590.13,479.83 590.14,480.34" fill="none" stroke="#ff0000" stroke-width="1.3"/>
<polyline points="577.4,488 577.4,395" fill="none" stroke="#ff0000" stroke-width="1.2"/>
<polyline points="543.5,487.71 543.5,466.4" fill="none" stroke="#ff0000" stroke-width="1.2"/>
<polyline points="550.7,486.72 550.7,474.3" fill="none" stroke="#ff0000" stroke-width="1.2"/>
<polyline points="558.8,485.95 558.8,473.3" fill="none" stroke="#ff0000" stroke-width="1.2"/>
<polyline points="527.2,489.7 527.2,478.5" fill="none" stroke="#ff0000" stroke-width="1.2"/>
<polyline points="502.1,497.67 502.1,485.9" fill="none" stroke="#ff0000" stroke-width="1.2"/>
<line x1="46.5" y1="485.1" x2="630" y2="485.1" stroke="#000" stroke-width="2" stroke-dasharray="7 7.2"/>
<polyline points="79.4,487 118.5,490.4 141.5,494.4 158.1,483.8 170.4,490.7 180.8,489.5 189.9,491.7 198,489.6 204.4,490.4 213.2,488.7 215.09,488.59 217.82,488.4 220.79,488.36 223.4,488.7 225.45,489.58 227.28,490.85 229.07,492.24 231,493.5 233.14,494.71 235.38,495.96 237.65,496.98 239.9,497.5 242.02,497.2 244.06,496.31 246.23,495.39 248.7,495 251.66,495.33 254.96,496.06 258.31,497.01 261.4,498 264.13,499.12 266.66,500.43 269.12,501.67 271.6,502.6 274.13,503.05 276.66,503.18 279.18,503.27 281.7,503.6 284.27,504.3 286.87,505.21 289.41,506.13 291.8,506.9 294.06,507.43 296.22,507.82 298.22,508.18 300,508.6 301.46,509.25 302.65,510.04 303.77,510.64 305,510.7 306.39,509.97 307.85,508.69 309.33,507.26 310.8,506.1 312.27,505.44 313.76,505.03 315.21,504.52 316.6,503.6 317.89,502.16 319.1,500.37 320.29,498.35 321.5,496.2 322.76,493.88 324.05,491.36 325.31,488.75 326.5,486.2 327.55,483.76 328.5,481.35 329.48,478.89 330.6,476.3 331.91,473.6 333.34,470.81 334.85,467.87 336.4,464.7 337.99,461.03 339.64,456.99 341.32,453.07 343,449.8 344.67,447.37 346.35,445.48 348.03,443.91 349.7,442.4 351.39,440.9 353.11,439.54 354.76,438.36 356.3,437.4 357.66,436.66 358.91,436.13 360.09,435.81 361.3,435.7 362.53,435.81 363.75,436.13 364.97,436.66 366.2,437.4 367.44,438.34 368.69,439.49 369.95,440.85 371.2,442.4 372.45,444.15 373.71,446.09 374.96,448.24 376.2,450.6 377.39,453.01 378.55,455.51 379.76,458.46 381.1,462.2 382.67,467.26 384.39,473.3 386.12,479.39 387.7,484.6 389.02,488.43 390.2,491.46 391.37,494.36 392.7,497.8 394.27,502.08 396,506.81 397.72,511.58 399.3,516 400.67,520.01 401.92,523.79 403.11,527.36 404.3,530.7 405.49,533.8 406.66,536.68 407.82,539.33 409,541.8 410.2,544.09 411.4,546.19 412.6,548.07 413.8,549.7 414.98,551.09 416.15,552.24 417.32,553.13 418.5,553.7 419.7,553.84 420.9,553.6 422.1,553.21 423.3,552.9 424.44,552.77 425.55,552.7 426.71,552.52 428,552.1 429.45,551.38 431,550.44 432.65,549.34 434.4,548.1 436.27,546.72 438.26,545.19 440.29,543.54 442.3,541.8 444.28,539.9 446.25,537.86 448.23,535.81 450.2,533.9 452.1,532.27 453.95,530.8 455.9,529.28 458.1,527.5 460.69,525.27 463.55,522.74 466.46,520.22 469.2,518 471.65,516.22 473.94,514.7 476.24,513.26 478.7,511.7 481.32,510.01 484.02,508.27 486.89,506.48 490,504.6 493.51,502.52 497.32,500.29 501.18,498.14 504.8,496.3 508.09,494.86 511.2,493.69 514.24,492.7 517.3,491.8 520.35,491.02 523.36,490.38 526.43,489.82 529.7,489.3 533.36,488.81 537.28,488.38 541.12,487.98 544.5,487.6 547.25,487.23 549.58,486.88 551.75,486.57 554,486.3 556.38,486.1 558.75,485.95 561.12,485.83 563.5,485.7 565.88,485.56 568.25,485.42 570.62,485.3 573,485.2 575.42,485.12 577.87,485.07 580.26,485.03 582.5,485 584.71,484.99 586.89,484.99 588.78,485 590.1,485" fill="none" stroke="#0000ff" stroke-width="2"/>
</g>
<path d="M46.3,0.5v6 M46.3,365.8v-6 M46.3,365.8v6 M46.3,564.9v-6 M85.61,0.5v3 M85.61,365.8v-3 M85.61,365.8v3 M85.61,564.9v-3 M108.6,0.5v3 M108.6,365.8v-3 M108.6,365.8v3 M108.6,564.9v-3 M124.91,0.5v3 M124.91,365.8v-3 M124.91,365.8v3 M124.91,564.9v-3 M137.57,0.5v3 M137.57,365.8v-3 M137.57,365.8v3 M137.57,564.9v-3 M147.91,0.5v3 M147.91,365.8v-3 M147.91,365.8v3 M147.91,564.9v-3 M156.65,0.5v3 M156.65,365.8v-3 M156.65,365.8v3 M156.65,564.9v-3 M164.22,0.5v3 M164.22,365.8v-3 M164.22,365.8v3 M164.22,564.9v-3 M170.9,0.5v3 M170.9,365.8v-3 M170.9,365.8v3 M170.9,564.9v-3 M176.88,0.5v6 M176.88,365.8v-6 M176.88,365.8v6 M176.88,564.9v-6 M216.18,0.5v3 M216.18,365.8v-3 M216.18,365.8v3 M216.18,564.9v-3 M239.18,0.5v3 M239.18,365.8v-3 M239.18,365.8v3 M239.18,564.9v-3 M255.49,0.5v3 M255.49,365.8v-3 M255.49,365.8v3 M255.49,564.9v-3 M268.14,0.5v3 M268.14,365.8v-3 M268.14,365.8v3 M268.14,564.9v-3 M278.48,0.5v3 M278.48,365.8v-3 M278.48,365.8v3 M278.48,564.9v-3 M287.22,0.5v3 M287.22,365.8v-3 M287.22,365.8v3 M287.22,564.9v-3 M294.8,0.5v3 M294.8,365.8v-3 M294.8,365.8v3 M294.8,564.9v-3 M301.48,0.5v3 M301.48,365.8v-3 M301.48,365.8v3 M301.48,564.9v-3 M307.45,0.5v6 M307.45,365.8v-6 M307.45,365.8v6 M307.45,564.9v-6 M346.76,0.5v3 M346.76,365.8v-3 M346.76,365.8v3 M346.76,564.9v-3 M369.75,0.5v3 M369.75,365.8v-3 M369.75,365.8v3 M369.75,564.9v-3 M386.06,0.5v3 M386.06,365.8v-3 M386.06,365.8v3 M386.06,564.9v-3 M398.72,0.5v3 M398.72,365.8v-3 M398.72,365.8v3 M398.72,564.9v-3 M409.06,0.5v3 M409.06,365.8v-3 M409.06,365.8v3 M409.06,564.9v-3 M417.8,0.5v3 M417.8,365.8v-3 M417.8,365.8v3 M417.8,564.9v-3 M425.37,0.5v3 M425.37,365.8v-3 M425.37,365.8v3 M425.37,564.9v-3 M432.05,0.5v3 M432.05,365.8v-3 M432.05,365.8v3 M432.05,564.9v-3 M438.02,0.5v6 M438.02,365.8v-6 M438.02,365.8v6 M438.02,564.9v-6 M477.33,0.5v3 M477.33,365.8v-3 M477.33,365.8v3 M477.33,564.9v-3 M500.33,0.5v3 M500.33,365.8v-3 M500.33,365.8v3 M500.33,564.9v-3 M516.64,0.5v3 M516.64,365.8v-3 M516.64,365.8v3 M516.64,564.9v-3 M529.29,0.5v3 M529.29,365.8v-3 M529.29,365.8v3 M529.29,564.9v-3 M539.63,0.5v3 M539.63,365.8v-3 M539.63,365.8v3 M539.63,564.9v-3 M548.37,0.5v3 M548.37,365.8v-3 M548.37,365.8v3 M548.37,564.9v-3 M555.95,0.5v3 M555.95,365.8v-3 M555.95,365.8v3 M555.95,564.9v-3 M562.63,0.5v3 M562.63,365.8v-3 M562.63,365.8v3 M562.63,564.9v-3 M568.6,0.5v6 M568.6,365.8v-6 M568.6,365.8v6 M568.6,564.9v-6 M607.91,0.5v3 M607.91,365.8v-3 M607.91,365.8v3 M607.91,564.9v-3 M46.5,365.8h3 M630.4,365.8h-3 M46.5,355.81h3 M630.4,355.81h-3 M46.5,349.96h3 M630.4,349.96h-3 M46.5,345.81h3 M630.4,345.81h-3 M46.5,342.59h3 M630.4,342.59h-3 M46.5,339.97h3 M630.4,339.97h-3 M46.5,337.74h3 M630.4,337.74h-3 M46.5,335.82h3 M630.4,335.82h-3 M46.5,334.12h3 M630.4,334.12h-3 M46.5,332.6h6 M630.4,332.6h-6 M46.5,322.61h3 M630.4,322.61h-3 M46.5,316.76h3 M630.4,316.76h-3 M46.5,312.61h3 M630.4,312.61h-3 M46.5,309.39h3 M630.4,309.39h-3 M46.5,306.77h3 M630.4,306.77h-3 M46.5,304.54h3 M630.4,304.54h-3 M46.5,302.62h3 M630.4,302.62h-3 M46.5,300.92h3 M630.4,300.92h-3 M46.5,299.4h3 M630.4,299.4h-3 M46.5,289.41h3 M630.4,289.41h-3 M46.5,283.56h3 M630.4,283.56h-3 M46.5,279.41h3 M630.4,279.41h-3 M46.5,276.19h3 M630.4,276.19h-3 M46.5,273.57h3 M630.4,273.57h-3 M46.5,271.34h3 M630.4,271.34h-3 M46.5,269.42h3 M630.4,269.42h-3 M46.5,267.72h3 M630.4,267.72h-3 M46.5,266.2h6 M630.4,266.2h-6 M46.5,256.21h3 M630.4,256.21h-3 M46.5,250.36h3 M630.4,250.36h-3 M46.5,246.21h3 M630.4,246.21h-3 M46.5,242.99h3 M630.4,242.99h-3 M46.5,240.37h3 M630.4,240.37h-3 M46.5,238.14h3 M630.4,238.14h-3 M46.5,236.22h3 M630.4,236.22h-3 M46.5,234.52h3 M630.4,234.52h-3 M46.5,233h3 M630.4,233h-3 M46.5,223.01h3 M630.4,223.01h-3 M46.5,217.16h3 M630.4,217.16h-3 M46.5,213.01h3 M630.4,213.01h-3 M46.5,209.79h3 M630.4,209.79h-3 M46.5,207.17h3 M630.4,207.17h-3 M46.5,204.94h3 M630.4,204.94h-3 M46.5,203.02h3 M630.4,203.02h-3 M46.5,201.32h3 M630.4,201.32h-3 M46.5,199.8h6 M630.4,199.8h-6 M46.5,189.81h3 M630.4,189.81h-3 M46.5,183.96h3 M630.4,183.96h-3 M46.5,179.81h3 M630.4,179.81h-3 M46.5,176.59h3 M630.4,176.59h-3 M46.5,173.97h3 M630.4,173.97h-3 M46.5,171.74h3 M630.4,171.74h-3 M46.5,169.82h3 M630.4,169.82h-3 M46.5,168.12h3 M630.4,168.12h-3 M46.5,166.6h3 M630.4,166.6h-3 M46.5,156.61h3 M630.4,156.61h-3 M46.5,150.76h3 M630.4,150.76h-3 M46.5,146.61h3 M630.4,146.61h-3 M46.5,143.39h3 M630.4,143.39h-3 M46.5,140.77h3 M630.4,140.77h-3 M46.5,138.54h3 M630.4,138.54h-3 M46.5,136.62h3 M630.4,136.62h-3 M46.5,134.92h3 M630.4,134.92h-3 M46.5,133.4h6 M630.4,133.4h-6 M46.5,123.41h3 M630.4,123.41h-3 M46.5,117.56h3 M630.4,117.56h-3 M46.5,113.41h3 M630.4,113.41h-3 M46.5,110.19h3 M630.4,110.19h-3 M46.5,107.57h3 M630.4,107.57h-3 M46.5,105.34h3 M630.4,105.34h-3 M46.5,103.42h3 M630.4,103.42h-3 M46.5,101.72h3 M630.4,101.72h-3 M46.5,100.2h3 M630.4,100.2h-3 M46.5,90.21h3 M630.4,90.21h-3 M46.5,84.36h3 M630.4,84.36h-3 M46.5,80.21h3 M630.4,80.21h-3 M46.5,76.99h3 M630.4,76.99h-3 M46.5,74.37h3 M630.4,74.37h-3 M46.5,72.14h3 M630.4,72.14h-3 M46.5,70.22h3 M630.4,70.22h-3 M46.5,68.52h3 M630.4,68.52h-3 M46.5,67h6 M630.4,67h-6 M46.5,57.01h3 M630.4,57.01h-3 M46.5,51.16h3 M630.4,51.16h-3 M46.5,47.01h3 M630.4,47.01h-3 M46.5,43.79h3 M630.4,43.79h-3 M46.5,41.17h3 M630.4,41.17h-3 M46.5,38.94h3 M630.4,38.94h-3 M46.5,37.02h3 M630.4,37.02h-3 M46.5,35.32h3 M630.4,35.32h-3 M46.5,33.8h3 M630.4,33.8h-3 M46.5,23.81h3 M630.4,23.81h-3 M46.5,17.96h3 M630.4,17.96h-3 M46.5,13.81h3 M630.4,13.81h-3 M46.5,10.59h3 M630.4,10.59h-3 M46.5,7.97h3 M630.4,7.97h-3 M46.5,5.74h3 M630.4,5.74h-3 M46.5,3.82h3 M630.4,3.82h-3 M46.5,2.12h3 M630.4,2.12h-3 M46.5,0.6h6 M630.4,0.6h-6 M46.5,565h6 M630.4,565h-6 M46.5,525.05h6 M630.4,525.05h-6 M46.5,485.1h6 M630.4,485.1h-6 M46.5,445.15h6 M630.4,445.15h-6 M46.5,405.2h6 M630.4,405.2h-6 M46.5,365.25h6 M630.4,365.25h-6" stroke="#747474" stroke-width="1" fill="none"/>
<path d="M46.5,0.5H630.4V564.9H46.5Z M46.5,365.8H630.4" stroke="#747474" stroke-width="1.2" fill="none"/>
<text x="41.2" y="73" font-family="Liberation Serif" font-weight="bold" font-size="12.5" text-anchor="end" stroke="#000" stroke-width="0.25">10<tspan font-size="9.0" dy="-7">4</tspan></text>
<text x="41.2" y="139.4" font-family="Liberation Serif" font-weight="bold" font-size="12.5" text-anchor="end" stroke="#000" stroke-width="0.25">10<tspan font-size="9.0" dy="-7">2</tspan></text>
<text x="41.2" y="205.8" font-family="Liberation Serif" font-weight="bold" font-size="12.5" text-anchor="end" stroke="#000" stroke-width="0.25">10<tspan font-size="9.0" dy="-7">0</tspan></text>
<text x="41.2" y="272.2" font-family="Liberation Serif" font-weight="bold" font-size="12.5" text-anchor="end" stroke="#000" stroke-width="0.25">10<tspan font-size="9.0" dy="-7">-2</tspan></text>
<text x="41.2" y="338.6" font-family="Liberation Serif" font-weight="bold" font-size="12.5" text-anchor="end" stroke="#000" stroke-width="0.25">10<tspan font-size="9.0" dy="-7">-4</tspan></text>
<text x="46.3" y="584.2" font-family="Liberation Serif" font-weight="bold" font-size="12.5" text-anchor="middle" stroke="#000" stroke-width="0.25">10<tspan font-size="9.0" dy="-7">-2</tspan></text>
<text x="176.88" y="584.2" font-family="Liberation Serif" font-weight="bold" font-size="12.5" text-anchor="middle" stroke="#000" stroke-width="0.25">10<tspan font-size="9.0" dy="-7">-1</tspan></text>
<text x="307.45" y="584.2" font-family="Liberation Serif" font-weight="bold" font-size="12.5" text-anchor="middle" stroke="#000" stroke-width="0.25">10<tspan font-size="9.0" dy="-7">0</tspan></text>
<text x="438.02" y="584.2" font-family="Liberation Serif" font-weight="bold" font-size="12.5" text-anchor="middle" stroke="#000" stroke-width="0.25">10<tspan font-size="9.0" dy="-7">1</tspan></text>
<text x="568.6" y="584.2" font-family="Liberation Serif" font-weight="bold" font-size="12.5" text-anchor="middle" stroke="#000" stroke-width="0.25">10<tspan font-size="9.0" dy="-7">2</tspan></text>
<text transform="translate(41,409.9) scale(0.92,1)" font-family="Liberation Serif" font-weight="bold" font-size="12.5" text-anchor="end" stroke="#000" stroke-width="0.25">0.2</text>
<text transform="translate(41,449.85) scale(0.92,1)" font-family="Liberation Serif" font-weight="bold" font-size="12.5" text-anchor="end" stroke="#000" stroke-width="0.25">0.1</text>
<text transform="translate(41,489.8) scale(0.92,1)" font-family="Liberation Serif" font-weight="bold" font-size="12.5" text-anchor="end" stroke="#000" stroke-width="0.25">0</text>
<text transform="translate(41,529.75) scale(0.92,1)" font-family="Liberation Serif" font-weight="bold" font-size="12.5" text-anchor="end" stroke="#000" stroke-width="0.25">-0.1</text>
<text transform="translate(41,569.7) scale(0.92,1)" font-family="Liberation Serif" font-weight="bold" font-size="12.5" text-anchor="end" stroke="#000" stroke-width="0.25">-0.2</text>
<text x="336.8" y="601.2" font-family="Liberation Serif" font-weight="bold" font-size="14" text-anchor="middle" stroke="#000" stroke-width="0.25">Frequency [Hz]</text>
<text transform="translate(15,183.3) rotate(-90)" font-family="Liberation Serif" font-weight="bold" font-size="14" text-anchor="middle" stroke="#000" stroke-width="0.25">PSD(<tspan font-style="italic">δ</tspan>B) [nT<tspan font-size="9.5" dx="0.8" dy="-7.3">2</tspan><tspan dx="0.3" dy="7.3">/Hz]</tspan></text>
<text transform="translate(10.2,473.2) rotate(-90)" font-family="Liberation Serif" font-size="14" font-style="italic" stroke="#000" stroke-width="0.25">σ</text>
<text transform="translate(16.1,464.8) rotate(-90)" font-family="Liberation Serif" font-weight="bold" font-size="11" stroke="#000" stroke-width="0.25">m</text>
<text x="63.3" y="20.2" font-family="Liberation Sans" font-weight="bold" font-size="13" fill="#ff00ff" stroke="#ff00ff" stroke-width="0.25">(a)</text>
<text x="63.3" y="382.3" font-family="Liberation Sans" font-weight="bold" font-size="13" fill="#ff00ff" stroke="#ff00ff" stroke-width="0.25">(b)</text>
<path d="M181.9,95.6 Q182.9,97.3 184.2,95.6 L186.4,88.3 Q187.1,85.9 188.7,85.9 Q189.6,86 189.8,86.7 M184.6,89.4 L187.6,89.4" stroke="#00ff00" stroke-width="1.4" fill="none" stroke-linecap="round"/>
<path transform="translate(206.3,101.1)" d="M181.9,95.6 Q182.9,97.3 184.2,95.6 L186.4,88.3 Q187.1,85.9 188.7,85.9 Q189.6,86 189.8,86.7 M184.6,89.4 L187.6,89.4" stroke="#00ff00" stroke-width="1.4" fill="none" stroke-linecap="round"/>
<text x="189.5" y="88.8" font-family="Liberation Serif" font-weight="bold" font-size="9.7" fill="#00ff00" stroke="#00ff00" stroke-width="0.25">-1.68</text>
<text x="396.6" y="189.7" font-family="Liberation Serif" font-weight="bold" font-size="9.7" fill="#00ff00" stroke="#00ff00" stroke-width="0.25">-4.24</text>
<line x1="323.7" y1="332" x2="323.7" y2="357" stroke="#ff00ff" stroke-width="1.9"/><path d="M318.85,354 L323.7,365.6 L328.55,354 L323.7,356.4Z" fill="#ff00ff"/>
<line x1="393" y1="332.2" x2="393" y2="357" stroke="#ff00ff" stroke-width="1.9"/><path d="M388.15,354 L393,365.6 L397.85,354 L393,356.4Z" fill="#ff00ff"/>
<line x1="423.6" y1="342.4" x2="423.6" y2="357" stroke="#ff00ff" stroke-width="1.9"/><path d="M418.75,354 L423.6,365.6 L428.45,354 L423.6,356.4Z" fill="#ff00ff"/>
<text x="320" y="324.8" font-family="Liberation Serif" font-weight="bold" font-size="13" fill="#ff00ff" stroke="#ff00ff" stroke-width="0.25">f</text>
<text x="324.3" y="330.6" font-family="Liberation Serif" font-weight="bold" font-size="9.6" letter-spacing="0.7" fill="#ff00ff" stroke="#ff00ff" stroke-width="0.25">ci</text>
<text x="380.7" y="324.9" font-family="Liberation Serif" font-weight="bold" font-size="13" fill="#ff00ff" stroke="#ff00ff" stroke-width="0.25">kd</text>
<text x="394.2" y="330.4" font-family="Liberation Serif" font-weight="bold" font-size="10" fill="#ff00ff" stroke="#ff00ff" stroke-width="0.25">i</text>
<text x="396.6" y="324.9" font-family="Liberation Serif" font-weight="bold" font-size="13" fill="#ff00ff" stroke="#ff00ff" stroke-width="0.25">=1</text>
<text x="410.9" y="334.9" font-family="Liberation Serif" font-weight="bold" font-size="13" fill="#ff00ff" stroke="#ff00ff" stroke-width="0.25">k</text>
<text x="418.2" y="334.9" font-family="Liberation Serif" font-style="italic" font-weight="bold" font-size="13" fill="#ff00ff" stroke="#ff00ff" stroke-width="0.25">ρ</text>
<text x="425" y="340.6" font-family="Liberation Serif" font-weight="bold" font-size="10" fill="#ff00ff" stroke="#ff00ff" stroke-width="0.25">i</text>
<text x="427.7" y="334.9" font-family="Liberation Serif" font-weight="bold" font-size="13" fill="#ff00ff" stroke="#ff00ff" stroke-width="0.25">=1</text>
</svg>
</body></html>
